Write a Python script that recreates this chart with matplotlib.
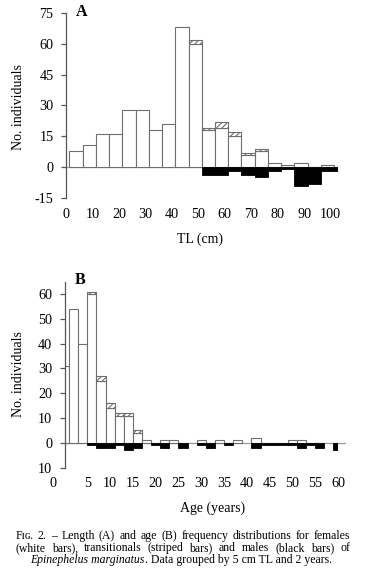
import numpy as np
import matplotlib
matplotlib.use("Agg")
import matplotlib.pyplot as plt
from matplotlib.transforms import ScaledTranslation

plt.rcParams['font.family'] = ['Liberation Serif', 'DejaVu Serif']
plt.rcParams['hatch.linewidth'] = 0.8
plt.rcParams['hatch.color'] = '#666666'

# ---------------- data ----------------
# Panel A: length classes (5 cm TL)
tl_bins = [0, 5, 10, 15, 20, 25, 30, 35, 40, 45, 50, 55, 60, 65, 70, 75, 80, 85, 90, 95, 100]
tl_female = [8, 11, 16, 16, 28, 28, 18, 21, 68, 60, 18, 19, 15, 6, 8, 2, 1, 2, 0, 1, 0]
tl_trans = [0, 0, 0, 0, 0, 0, 0, 0, 0, 2, 1, 3, 2, 1, 1, 0, 0, 0, 0, 0, 0]
tl_male = [0, 0, 0, 0, 0, 0, 0, 0, 0, 0, 4, 4, 2, 4, 5, 2, 1, 9, 8, 2, 2]
tl_xticks = [0, 10, 20, 30, 40, 50, 60, 70, 80, 90, 100]
tl_xticklabels = ["0", "10", "20", "30", "40", "50", "60", "70", "80", "90", "100"]
tl_yticks = [-15, 0, 15, 30, 45, 60, 75]
tl_yticklabels = ["-15", "0", "15", "30", "45", "60", "75"]

# Panel B: age classes (2 years)
age_bins = [0, 2, 4, 6, 8, 10, 12, 14, 16, 18, 20, 22, 24, 26, 28, 30,
            32, 34, 36, 38, 40, 42, 44, 46, 48, 50, 52, 54, 56, 58, 60]
age_female = [31, 54, 40, 60, 25, 14, 11, 11, 4, 1, 0, 1, 1, 0, 0, 1,
              0, 1, 0, 1, 0, 2, 0, 0, 0, 1, 1, 0, 0, 0, 0]
age_trans = [0, 0, 0, 1, 2, 2, 1, 1, 1, 0, 0, 0, 0, 0, 0, 0,
             0, 0, 0, 0, 0, 0, 0, 0, 0, 0, 0, 0, 0, 0, 0]
age_male = [0, 0, 0, 1, 2, 2, 1, 3, 2, 0, 1, 2, 0, 2, 0, 1,
            2, 0, 1, 0, 0, 2, 1, 1, 1, 1, 2, 1, 2, 0, 3]
age_xticks = [0, 5, 10, 15, 20, 25, 30, 35, 40, 45, 50, 55, 60]
age_xticklabels = ["0", "5", "10", "15", "20", "25", "30", "35", "40", "45", "50", "55", "60"]
age_yticks = [-10, 0, 10, 20, 30, 40, 50, 60]
age_yticklabels = ["10", "0", "10", "20", "30", "40", "50", "60"]

caption_line1 = "F\u026a\u0262. 2. \u2013 Length (A) and age (B) frequency distributions for females"
caption_line2 = "(white bars), transitionals (striped bars) and males (black bars) of"
caption_species = "Epinephelus marginatus"
caption_line3_rest = ". Data grouped by 5 cm TL and 2 years."

# ---------------- figure ----------------
W, H = 370, 578
fig = plt.figure(figsize=(W / 100, H / 100), dpi=100)
fig.patch.set_facecolor('white')

EDGE = '#6e6e6e'
TICKFS = 10.2
LABFS = 10.0


def px(x, y):
    return x / W, 1 - y / H


def style_axes(ax):
    for s in ['top', 'right', 'bottom']:
        ax.spines[s].set_visible(False)
    ax.spines['left'].set_color('#555555')
    ax.spines['left'].set_linewidth(0.9)
    ax.tick_params(axis='y', direction='out', length=3.5, width=0.9, color='#555555',
                   pad=5.5, labelsize=TICKFS)
    ax.tick_params(axis='x', length=0, labelsize=TICKFS)
    ax.patch.set_alpha(0)


def draw_bars(ax, centers, width, female, trans, male):
    centers = np.asarray(centers, float)
    female = np.asarray(female, float)
    trans = np.asarray(trans, float)
    male = np.asarray(male, float)
    ax.axhline(0, color='#9a9a9a', lw=0.9, zorder=1)
    fm = female > 0
    ax.bar(centers[fm], female[fm], width=width, color='white',
           edgecolor=EDGE, linewidth=0.8, zorder=2)
    tm = trans > 0
    ax.bar(centers[tm], trans[tm], bottom=female[tm], width=width,
           color='white', edgecolor=EDGE, linewidth=0.8, hatch='//////', zorder=2)
    mm = male > 0
    ax.bar(centers[mm], -male[mm], width=width, color='black',
           edgecolor='black', linewidth=0.6, zorder=3)


# ---- Panel A ----
axA = fig.add_axes([66 / W, 1 - 198 / H, (338 - 66) / W, 185 / H])
style_axes(axA)
A_OFFSET = 3.8  # class bars drawn shifted relative to the printed scale
draw_bars(axA, np.asarray(tl_bins) + A_OFFSET, 5, tl_female, tl_trans, tl_male)
axA.set_xlim(0, 102.8)
axA.set_ylim(-15, 75)
axA.set_yticks(tl_yticks)
axA.set_yticklabels(tl_yticklabels)
axA.set_xticks(tl_xticks)
axA.set_xticklabels(tl_xticklabels)
axA.tick_params(axis='x', pad=7.5)
fig.text(*px(76, 16.5), "A", fontsize=11.5, fontweight='bold', va='baseline', ha='left')
fig.text(*px(19, 107), "No. individuals", rotation=90, fontsize=LABFS, ha='center', va='center')
fig.text(*px(200, 239), "TL (cm)", fontsize=LABFS, ha='center', va='center')

# ---- Panel B ----
axB = fig.add_axes([64.5 / W, 1 - 467.6 / H, (338 - 64.5) / W, (467.6 - 281.7) / H])
style_axes(axB)
draw_bars(axB, age_bins, 2, age_female, age_trans, age_male)
axB.set_xlim(0, 60)
axB.set_ylim(-10, 65)
axB.set_yticks(age_yticks)
axB.set_yticklabels(age_yticklabels)
axB.set_xticks(age_xticks)
axB.set_xticklabels(age_xticklabels)
axB.tick_params(axis='x', pad=6.5)
axB.plot([60, 61.5], [0, 0], color='#9a9a9a', lw=0.9, clip_on=False, zorder=1)
lab0 = axB.get_xticklabels()[0]
lab0.set_transform(lab0.get_transform() + ScaledTranslation(-11.5 / 100, 0, fig.dpi_scale_trans))
fig.text(*px(80, 283.5), "B", fontsize=11.5, fontweight='bold', va='baseline', ha='center')
fig.text(*px(19, 374), "No. individuals", rotation=90, fontsize=LABFS, ha='center', va='center')
fig.text(*px(213, 508), "Age (years)", fontsize=LABFS, ha='center', va='center')

# ---- Caption ----
renderer = fig.canvas.get_renderer()


def width_of_str(s, **kw):
    t = fig.text(0, 0, s, **kw)
    w = t.get_window_extent(renderer).width
    t.remove()
    return w


LEFT, RIGHT = 15.5, 350.0
LINE3_W = 300.0
w3 = width_of_str(caption_species, fontsize=10, style='italic') + \
     width_of_str(caption_line3_rest, fontsize=10)
cap_fs = 10 * LINE3_W / w3


def justified_line(line, y):
    words = line.split(' ')
    full = width_of_str(line, fontsize=cap_fs)
    extra = max(0.0, (RIGHT - LEFT - full) / (len(words) - 1))
    for k, w in enumerate(words):
        prefix = ' '.join(words[:k + 1])
        start = width_of_str(prefix, fontsize=cap_fs) - width_of_str(w, fontsize=cap_fs)
        fig.text(*px(LEFT + start + k * extra, y), w, fontsize=cap_fs, va='baseline', ha='left')


justified_line(caption_line1, 539.0)
justified_line(caption_line2, 551.2)

ws = width_of_str(caption_species, fontsize=cap_fs, style='italic')
wr = width_of_str(caption_line3_rest, fontsize=cap_fs)
x0 = 181 - (ws + wr + 0.5) / 2
fig.text(*px(x0, 563.4), caption_species, style='italic', va='baseline', ha='left', fontsize=cap_fs)
fig.text(*px(x0 + ws + 0.5, 563.4), caption_line3_rest, va='baseline', ha='left', fontsize=cap_fs)

fig.savefig("out.png", dpi=100, facecolor='white')
